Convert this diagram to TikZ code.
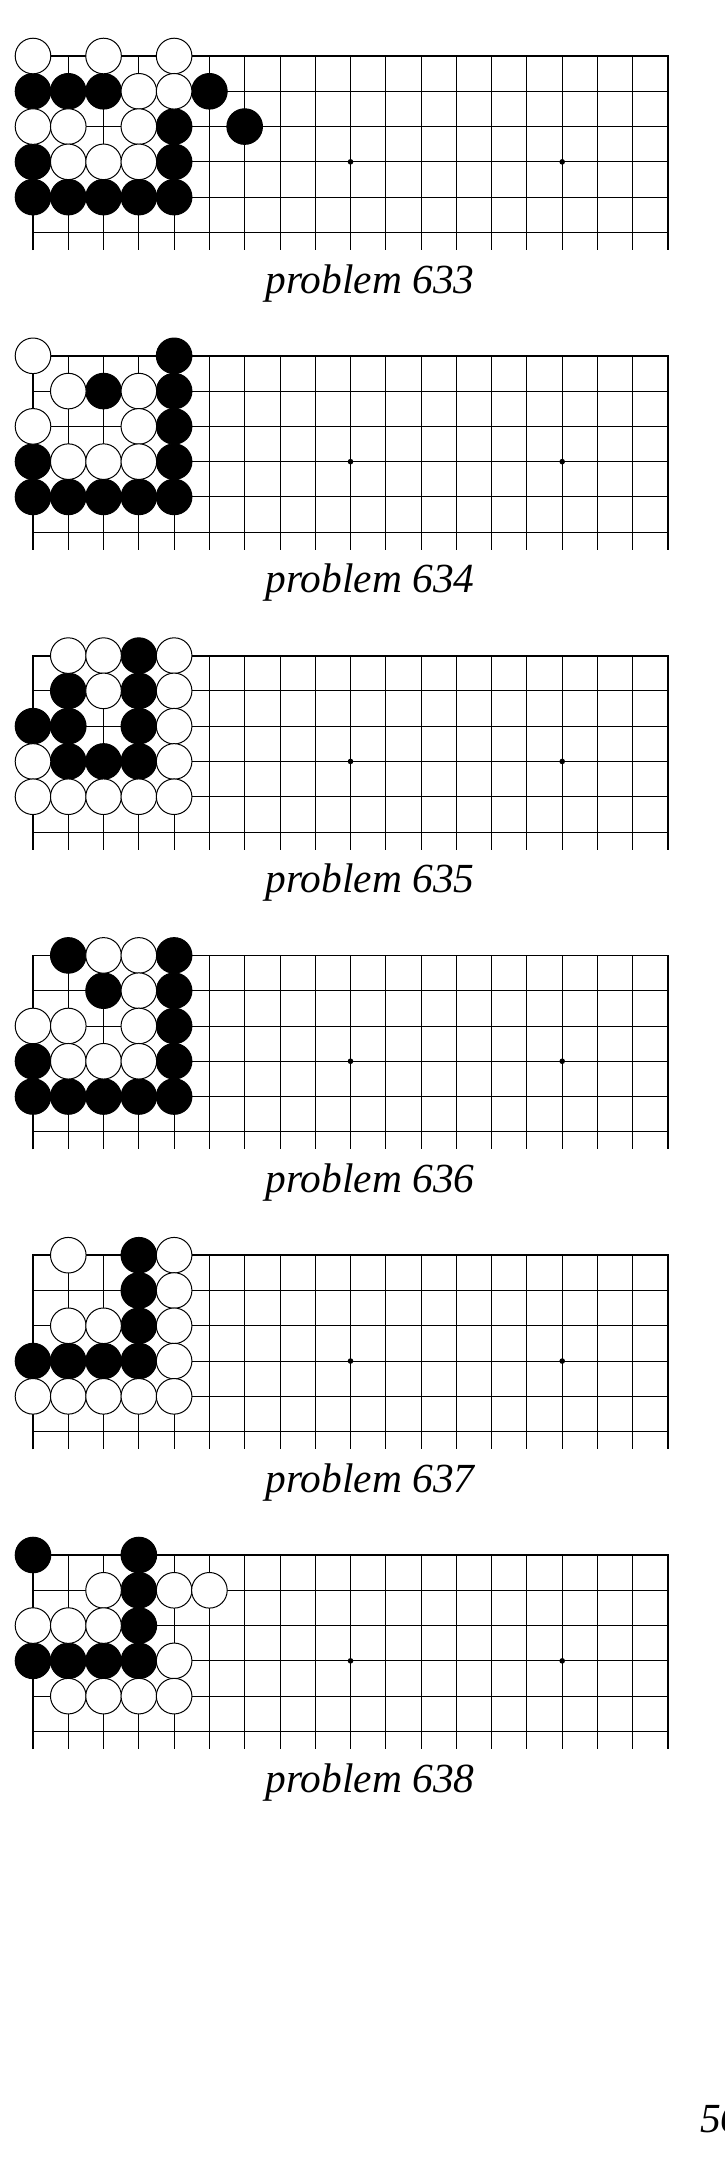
\documentclass[tikz,border=0pt]{standalone}
\usepackage{fontspec}
\setmainfont{Liberation Serif}
\begin{document}
\begin{tikzpicture}[x=0.5pt, y=-0.5pt, every node/.style={font=\fontsize{20.7}{25}\selectfont\itshape},
        thinline/.style={line width=0.45pt},
        edgeline/.style={line width=0.9pt},
        bstone/.style={fill=black, draw=black, line width=0.5pt},
        wstone/.style={fill=white, draw=black, line width=0.5pt}]
    \useasboundingbox (0,0) rectangle (724,2181);
    \foreach \k/\num/\blk/\wht in {
            0/633/{0/1,1/1,2/1,5/1,4/2,6/2,0/3,4/3,0/4,1/4,2/4,3/4,4/4}/{0/0,2/0,4/0,3/1,4/1,0/2,1/2,3/2,1/3,2/3,3/3},
            1/634/{4/0,2/1,4/1,4/2,0/3,4/3,0/4,1/4,2/4,3/4,4/4}/{0/0,1/1,3/1,0/2,3/2,1/3,2/3,3/3},
            2/635/{3/0,1/1,3/1,0/2,1/2,3/2,1/3,2/3,3/3}/{1/0,2/0,4/0,2/1,4/1,4/2,0/3,4/3,0/4,1/4,2/4,3/4,4/4},
            3/636/{1/0,4/0,2/1,4/1,4/2,0/3,4/3,0/4,1/4,2/4,3/4,4/4}/{2/0,3/0,3/1,0/2,1/2,3/2,1/3,2/3,3/3},
            4/637/{3/0,3/1,3/2,0/3,1/3,2/3,3/3}/{1/0,4/0,4/1,1/2,2/2,4/2,4/3,0/4,1/4,2/4,3/4,4/4},
            5/638/{0/0,3/0,3/1,3/2,0/3,1/3,2/3,3/3}/{2/1,4/1,5/1,0/2,1/2,2/2,4/3,1/4,2/4,3/4,4/4}} {
        \begin{scope}[shift={(33,56+299.8*\k)}, x=17.64pt, y=-17.64pt]
            \foreach \c in {1,...,17} \draw[thinline] (\c,0) -- (\c,5.5);
            \foreach \r in {1,...,5} \draw[thinline] (0,\r) -- (18,\r);
            \draw[edgeline] (0,5.5) -- (0,0) -- (18,0) -- (18,5.5);
            \fill (9,3) circle (1.4pt) (15,3) circle (1.4pt);
            \foreach \c/\r in \blk \draw[bstone] (\c,\r) circle (8.9pt);
            \foreach \c/\r in \wht \draw[wstone] (\c,\r) circle (8.9pt);
        \end{scope}
        \node[anchor=base] (p\num) at (370,293+299.8*\k) {problem \num};
    }
    \node[anchor=base west] (page) at (693,2132) {56};
\end{tikzpicture}
\end{document}
